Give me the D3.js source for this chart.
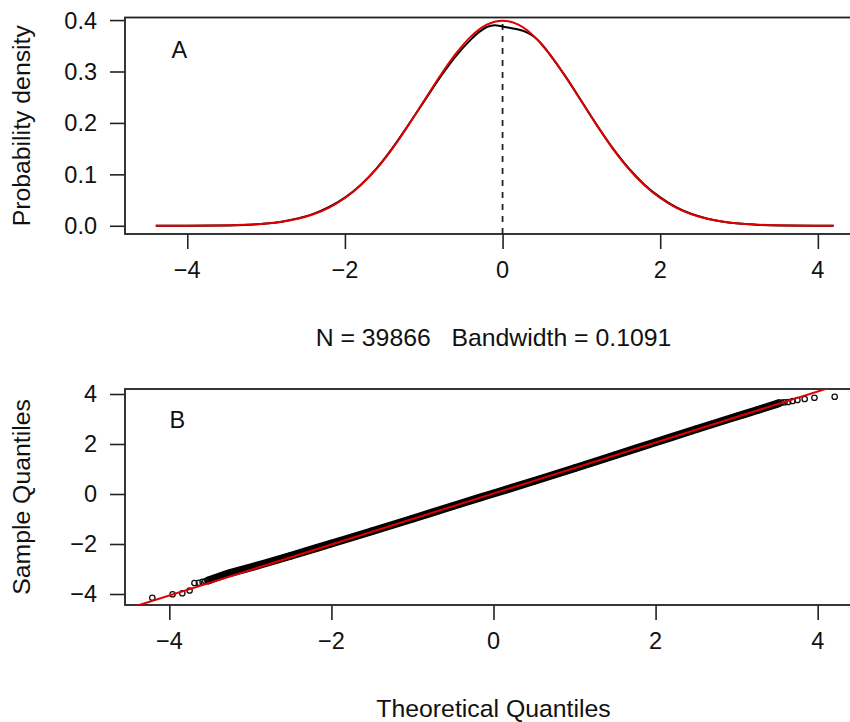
<!DOCTYPE html>
<html>
<head>
<meta charset="utf-8">
<script src="https://cdn.jsdelivr.net/npm/d3@7"></script>
<style>
  html, body { margin: 0; padding: 0; background: #fff; }
  svg { display: block; }
  text { font-family: "Liberation Sans", Arial, Helvetica, sans-serif; fill: #111; }
</style>
</head>
<body>
<svg id="chart" width="850" height="722"></svg>
<script>
// ---------------- data ----------------
// Panel A: kernel density (black) and normal reference (red)
const densX = [-4.4, -4.0, -3.6, -3.2, -3.0, -2.8, -2.6, -2.4, -2.2, -2.0, -1.8, -1.6, -1.4, -1.2, -1.0, -0.8, -0.6, -0.4, -0.3, -0.2, -0.1, 0.0, 0.1, 0.2, 0.3, 0.4, 0.5, 0.6, 0.8, 1.0, 1.2, 1.4, 1.6, 1.8, 2.0, 2.2, 2.4, 2.6, 2.8, 3.0, 3.2, 3.6, 4.0, 4.2];
const densY = [0.0000, 0.0001, 0.0005, 0.0022, 0.0043, 0.0080, 0.0140, 0.0232, 0.0365, 0.0548, 0.0795, 0.1112, 0.1505, 0.1950, 0.2410, 0.2870, 0.3285, 0.3625, 0.3765, 0.3865, 0.3900, 0.3875, 0.3845, 0.3815, 0.3765, 0.3675, 0.3525, 0.3330, 0.2900, 0.2425, 0.1950, 0.1505, 0.1118, 0.0800, 0.0552, 0.0362, 0.0228, 0.0137, 0.0078, 0.0042, 0.0022, 0.0005, 0.0001, 0.0000];
const normX = [-4.4, -4.0, -3.6, -3.2, -3.0, -2.8, -2.6, -2.4, -2.2, -2.0, -1.8, -1.6, -1.4, -1.2, -1.0, -0.8, -0.6, -0.4, -0.2, 0.0, 0.2, 0.4, 0.6, 0.8, 1.0, 1.2, 1.4, 1.6, 1.8, 2.0, 2.2, 2.4, 2.6, 2.8, 3.0, 3.2, 3.6, 4.0, 4.2];
const normY = [0.0000, 0.0001, 0.0006, 0.0024, 0.0044, 0.0079, 0.0136, 0.0224, 0.0355, 0.0540, 0.0790, 0.1109, 0.1497, 0.1942, 0.2420, 0.2897, 0.3332, 0.3683, 0.3910, 0.3989, 0.3910, 0.3683, 0.3332, 0.2897, 0.2420, 0.1942, 0.1497, 0.1109, 0.0790, 0.0540, 0.0355, 0.0224, 0.0136, 0.0079, 0.0044, 0.0024, 0.0006, 0.0001, 0.0001];
const vlineX = 0;
const densXTicks = [-4, -2, 0, 2, 4];
const densYTicks = [0.0, 0.1, 0.2, 0.3, 0.4];
const densXLim = [-4.79, 4.56];
const densYLim = [-0.016, 0.405];
const densXLabel = "N = 39866   Bandwidth = 0.1091";
const densYLabel = "Probability density";

// Panel B: normal QQ plot
const qqBandTheo   = [-3.52, -3.25, -3.0, -2.5, -2.0, -1.5, -1.0, -0.5, 0.0, 0.5, 1.0, 1.5, 2.0, 2.5, 3.0, 3.25, 3.52];
const qqBandSample = [-3.46, -3.16, -2.94, -2.47, -1.98, -1.49, -0.99, -0.48, 0.02, 0.52, 1.03, 1.55, 2.07, 2.59, 3.10, 3.35, 3.63];
const qqTailTheo   = [-4.21, -3.96, -3.84, -3.75, -3.69, -3.635, -3.59, -3.556, 3.556, 3.59, 3.635, 3.69, 3.75, 3.84, 3.96, 4.21];
const qqTailSample = [-4.15, -4.01, -3.97, -3.86, -3.56, -3.55, -3.51, -3.49, 3.66, 3.67, 3.68, 3.72, 3.76, 3.80, 3.85, 3.89];
const qqLine = { intercept: 0.02, slope: 1.02 };
const qqXTicks = [-4, -2, 0, 2, 4];
const qqYTicks = [-4, -2, 0, 2, 4];
const qqXLim = [-4.547, 4.547];
const qqYLim = [-4.44, 4.2];
const qqXLabel = "Theoretical Quantiles";
const qqYLabel = "Sample Quantiles";

// ---------------- layout ----------------
const svg = d3.select("#chart");
const L = 125, R = 862;
const panelA = { top: 17.5, bottom: 234 };
const panelB = { top: 389, bottom: 605 };
const fmtMinus = s => String(s).replace("-", "\u2212");
const axisColor = "#222";
const tickFont = 23.5, titleFont = 24.8;

function drawPanel(p, xlim, ylim, xticks, yticks, yfmt, xlabel, ylabel, tag, tagPos, id) {
  const x = d3.scaleLinear().domain(xlim).range([L, R]);
  const y = d3.scaleLinear().domain(ylim).range([p.bottom, p.top]);
  const g = svg.append("g");

  svg.append("clipPath").attr("id", id).append("rect")
    .attr("x", L).attr("y", p.top).attr("width", R - L).attr("height", p.bottom - p.top);

  // x axis
  const xa = d3.axisBottom(x).tickValues(xticks).tickSize(15).tickPadding(0).tickFormat(() => "");
  const gx = g.append("g").attr("transform", `translate(0,${p.bottom})`).call(xa);
  gx.select(".domain").remove();
  gx.selectAll("line").attr("stroke", axisColor).attr("stroke-width", 1.6);
  g.selectAll(".xtl").data(xticks).enter().append("text")
    .attr("x", d => x(d)).attr("y", p.bottom + 44)
    .attr("text-anchor", "middle").attr("font-size", tickFont)
    .text(d => fmtMinus(d));

  // y axis
  const ya = d3.axisLeft(y).tickValues(yticks).tickSize(15).tickFormat(() => "");
  const gy = g.append("g").attr("transform", `translate(${L},0)`).call(ya);
  gy.select(".domain").remove();
  gy.selectAll("line").attr("stroke", axisColor).attr("stroke-width", 1.6);
  g.selectAll(".ytl").data(yticks).enter().append("text")
    .attr("x", 97).attr("y", d => y(d)).attr("dy", "0.36em")
    .attr("text-anchor", "end").attr("font-size", tickFont)
    .text(d => yfmt(d));

  // box
  g.append("rect").attr("x", L).attr("y", p.top).attr("width", R - L).attr("height", p.bottom - p.top)
    .attr("fill", "none").attr("stroke", axisColor).attr("stroke-width", 1.8);

  // axis titles
  g.append("text").attr("x", (L + R) / 2).attr("y", p.bottom + 112)
    .attr("text-anchor", "middle").attr("font-size", titleFont)
    .style("white-space", "pre").attr("xml:space", "preserve")
    .text(xlabel);
  g.append("text").attr("transform", `translate(30,${(p.top + p.bottom) / 2}) rotate(-90)`)
    .attr("text-anchor", "middle").attr("font-size", titleFont)
    .text(ylabel);

  // panel tag
  g.append("text").attr("x", x(tagPos[0])).attr("y", y(tagPos[1])).attr("dy", "0.36em")
    .attr("text-anchor", "middle").attr("font-size", tickFont).text(tag);

  return { x, y, clip: `url(#${id})` };
}

// ---------- Panel A ----------
const A = drawPanel(panelA, densXLim, densYLim, densXTicks, densYTicks, d => d.toFixed(1),
  densXLabel, densYLabel, "A", [-4.1, 0.342], "clipA");
const gA = svg.append("g").attr("clip-path", A.clip);
gA.append("line")
  .attr("x1", A.x(vlineX)).attr("x2", A.x(vlineX))
  .attr("y1", A.y(densYLim[0])).attr("y2", A.y(densYLim[1]))
  .attr("stroke", "#222").attr("stroke-width", 1.8).attr("stroke-dasharray", "6,6");
const lineA = d3.line().x(d => A.x(d[0])).y(d => A.y(d[1])).curve(d3.curveMonotoneX);
gA.append("path").datum(d3.zip(densX, densY)).attr("d", lineA)
  .attr("fill", "none").attr("stroke", "#000").attr("stroke-width", 2);
gA.append("path").datum(d3.zip(normX, normY)).attr("d", lineA)
  .attr("fill", "none").attr("stroke", "#e00000").attr("stroke-width", 2);

// ---------- Panel B ----------
const B = drawPanel(panelB, qqXLim, qqYLim, qqXTicks, qqYTicks, d => fmtMinus(d),
  qqXLabel, qqYLabel, "B", [-3.9, 2.97], "clipB");
const gB = svg.append("g").attr("clip-path", B.clip);
const lineB = d3.line().x(d => B.x(d[0])).y(d => B.y(d[1])).curve(d3.curveMonotoneX);
// dense overlapping point cloud
gB.append("path").datum(d3.zip(qqBandTheo, qqBandSample)).attr("d", lineB)
  .attr("fill", "none").attr("stroke", "#000").attr("stroke-width", 8).attr("stroke-linecap", "round");
gB.selectAll(".bandpt").data(d3.zip(qqBandTheo, qqBandSample)).enter().append("circle")
  .attr("cx", d => B.x(d[0])).attr("cy", d => B.y(d[1])).attr("r", 3)
  .attr("fill", "none").attr("stroke", "#000").attr("stroke-width", 1.3);
gB.selectAll(".tailpt").data(d3.zip(qqTailTheo, qqTailSample)).enter().append("circle")
  .attr("cx", d => B.x(d[0])).attr("cy", d => B.y(d[1])).attr("r", 2.7)
  .attr("fill", "none").attr("stroke", "#111").attr("stroke-width", 1.3);
gB.append("line")
  .attr("x1", B.x(qqXLim[0])).attr("y1", B.y(qqLine.intercept + qqLine.slope * qqXLim[0]))
  .attr("x2", B.x(qqXLim[1])).attr("y2", B.y(qqLine.intercept + qqLine.slope * qqXLim[1]))
  .attr("stroke", "#e00000").attr("stroke-width", 2);
</script>
</body>
</html>
